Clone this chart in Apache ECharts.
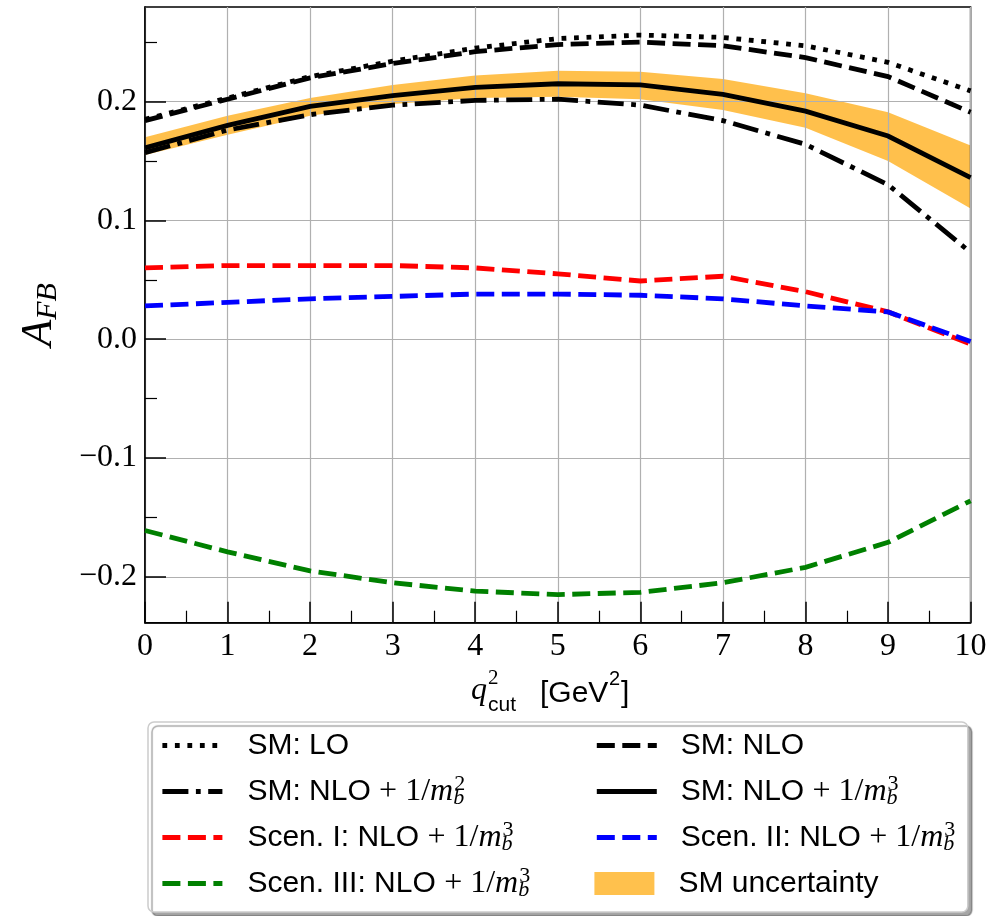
<!DOCTYPE html>
<html>
<head>
<meta charset="utf-8">
<script src="https://cdn.jsdelivr.net/npm/echarts@6/dist/echarts.min.js"></script>
<style>
  html, body { margin: 0; padding: 0; background: #fff; }
  #chart { width: 1002px; height: 916px; }
</style>
</head>
<body>
<div id="chart"></div>
<script>
// q^2_cut values (GeV^2)
const qCut = [0, 1, 2, 3, 4, 5, 6, 7, 8, 9, 10];

// Forward-backward asymmetry A_FB for each prediction
const smLO       = [0.185, 0.203, 0.221, 0.234, 0.245, 0.253, 0.256, 0.254, 0.247, 0.233, 0.209];
const smNLO      = [0.184, 0.202, 0.220, 0.232, 0.242, 0.248, 0.250, 0.247, 0.237, 0.221, 0.191];
const smNLOmb2   = [0.157, 0.176, 0.189, 0.197, 0.201, 0.202, 0.197, 0.184, 0.164, 0.130, 0.073];
const smNLOmb3   = [0.161, 0.180, 0.196, 0.205, 0.212, 0.215, 0.214, 0.206, 0.192, 0.171, 0.136];
const smUncLower = [0.155, 0.172, 0.188, 0.198, 0.203, 0.204, 0.202, 0.193, 0.178, 0.150, 0.110];
const smUncUpper = [0.170, 0.188, 0.203, 0.214, 0.222, 0.226, 0.225, 0.219, 0.207, 0.191, 0.163];
const scenI      = [0.060, 0.062, 0.062, 0.062, 0.060, 0.055, 0.049, 0.053, 0.040, 0.023, -0.004];
const scenII     = [0.028, 0.031, 0.034, 0.036, 0.038, 0.038, 0.037, 0.034, 0.028, 0.023, -0.002];
const scenIII    = [-0.161, -0.179, -0.195, -0.205, -0.212, -0.215, -0.213, -0.205, -0.192, -0.171, -0.136];

// Axis ranges and tick positions
const xRange = [0, 10];
const yRange = [-0.2386, 0.2796];
const yMajorTicks = [-0.2, -0.1, 0, 0.1, 0.2];
const yMinorTicks = [-0.15, -0.05, 0.05, 0.15, 0.25];

// Legend entries (series names), two columns filled row by row
const names = {
  lo: 'SM: LO',
  nlo: 'SM: NLO',
  mb2: 'SM: NLO + 1/m_b^2',
  mb3: 'SM: NLO + 1/m_b^3',
  s1: 'Scen. I: NLO + 1/m_b^3',
  s2: 'Scen. II: NLO + 1/m_b^3',
  s3: 'Scen. III: NLO + 1/m_b^3',
  unc: 'SM uncertainty'
};
const legendOrder = [names.lo, names.nlo, names.mb2, names.mb3, names.s1, names.s2, names.s3, names.unc];

const LW = 4.8;
const DASHED = [18, 7.5];
const DOTTED = [4.8, 7.7];
const DASHDOT = [26, 7.5, 4.8, 7.5];
const BAND_COLOR = 'rgba(255,165,0,0.7)';
const BAND_SOLID = '#FFC14D';

const pairs = arr => qCut.map((x, i) => [x, arr[i]]);

function lineSeries(name, arr, color, dash) {
  return {
    name: name,
    type: 'line',
    data: pairs(arr),
    symbol: 'none',
    smooth: false,
    color: color,
    lineStyle: { color: color, width: LW, type: dash, cap: 'butt', join: 'miter' },
    z: 3,
    silent: true
  };
}

const SERIF = '"Liberation Serif", "DejaVu Serif", serif';
const SANS = '"Liberation Sans", "DejaVu Sans", sans-serif';

const chart = echarts.init(document.getElementById('chart'), null, { renderer: 'canvas' });

const legendData = legendOrder.map((n, i) => {
  const item = {
    name: n,
    textStyle: i % 2 === 0 ? { width: 337, padding: [0, 0, 0, 20] } : { width: 276, padding: [0, 0, 0, 19] }
  };
  if (n === names.unc) {
    item.icon = 'rect';
    item.itemStyle = { color: BAND_SOLID, opacity: 1, borderWidth: 0 };
  }
  return item;
});

const option = {
  animation: false,
  backgroundColor: '#ffffff',
  grid: {
    left: 145, right: 31.4, top: 7, bottom: 293.3,
    show: true, borderColor: '#000', borderWidth: 1.5, backgroundColor: 'transparent',
    containLabel: false, outerBoundsMode: 'none'
  },
  xAxis: {
    type: 'value',
    min: xRange[0], max: xRange[1], interval: 1,
    axisLine: { show: true, onZero: false, lineStyle: { color: '#000', width: 1.5 } },
    axisTick: { show: true, inside: true, length: 21, lineStyle: { color: '#000', width: 1.5 } },
    minorTick: { show: true, splitNumber: 2, length: 12, lineStyle: { color: '#000', width: 1.2 } },
    splitLine: { show: true, lineStyle: { color: '#b0b0b0', width: 1.2 } },
    axisLabel: { color: '#000', fontFamily: SERIF, fontSize: 32, margin: 8 }
  },
  yAxis: [
    {
      type: 'value',
      position: 'left',
      min: yRange[0], max: yRange[1],
      axisLine: { show: true, onZero: false, lineStyle: { color: '#000', width: 1.5 } },
      axisTick: { show: true, inside: true, length: 21, customValues: yMajorTicks, lineStyle: { color: '#000', width: 1.5 } },
      splitLine: { show: true, lineStyle: { color: '#b0b0b0', width: 1.2 } },
      axisLabel: {
        customValues: yMajorTicks,
        color: '#000', fontFamily: SERIF, fontSize: 32, margin: 8,
        formatter: v => (v < -1e-9 ? '\u2212' : '') + Math.abs(v).toFixed(1)
      },
      name: '{a|A}{s|FB}',
      nameLocation: 'middle',
      nameRotate: 90,
      nameGap: 82,
      nameTextStyle: {
        rich: {
          a: { fontFamily: SERIF, fontStyle: 'italic', fontSize: 44, lineHeight: 48, color: '#000' },
          s: { fontFamily: SERIF, fontStyle: 'italic', fontSize: 30, lineHeight: 30, color: '#000', verticalAlign: 'bottom' }
        }
      }
    },
    {
      type: 'value',
      position: 'left',
      min: yRange[0], max: yRange[1],
      axisLine: { show: false },
      axisTick: { show: true, inside: true, length: 12, customValues: yMinorTicks, lineStyle: { color: '#000', width: 1.2 } },
      splitLine: { show: false },
      axisLabel: { show: false }
    }
  ],
  legend: {
    left: 148, top: 722,
    width: 900,
    orient: 'horizontal',
    padding: [5.5, 11, 10.5, 12],
    itemGap: 10,
    itemWidth: 60,
    itemHeight: 23,
    selectedMode: false,
    backgroundColor: '#ffffff',
    borderColor: '#cccccc',
    borderWidth: 1.5,
    borderRadius: 6,
    shadowColor: 'rgba(0,0,0,0.35)',
    shadowBlur: 1,
    shadowOffsetX: 4,
    shadowOffsetY: 4,
    lineStyle: { width: LW },
    itemStyle: { opacity: 0 },
    data: legendData,
    formatter: name => name.replace(/ \+ 1\/m_b\^(\d)$/, (m, p) => ' {op|+ 1/}{mi|m}{sb|b}{sp|' + p + '}'),
    textStyle: {
      color: '#000', fontFamily: SANS, fontSize: 30, lineHeight: 36,
      rich: {
        op: { fontFamily: SERIF, fontSize: 32, lineHeight: 36, color: '#000' },
        mi: { fontFamily: SERIF, fontStyle: 'italic', fontSize: 32, lineHeight: 36, color: '#000' },
        sb: { fontFamily: SERIF, fontStyle: 'italic', fontSize: 22, lineHeight: 18, color: '#000', width: 1, verticalAlign: 'bottom' },
        sp: { fontFamily: SERIF, fontSize: 22, lineHeight: 14, color: '#000', verticalAlign: 'top' }
      }
    }
  },
  graphic: [
    { type: 'text', x: 471, y: 690.6, style: { text: 'q', font: 'italic 32px ' + SERIF, fill: '#000', verticalAlign: 'middle' } },
    { type: 'text', x: 488, y: 678, style: { text: '2', font: '21px ' + SERIF, fill: '#000', verticalAlign: 'middle' } },
    { type: 'text', x: 488, y: 705.7, style: { text: 'cut', font: '21px ' + SANS, fill: '#000', verticalAlign: 'middle' } },
    { type: 'text', x: 540, y: 693.6, style: { text: '[GeV', font: '30px ' + SANS, fill: '#000', verticalAlign: 'middle' } },
    { type: 'text', x: 609, y: 679, style: { text: '2', font: '20px ' + SANS, fill: '#000', verticalAlign: 'middle' } },
    { type: 'text', x: 621, y: 693.6, style: { text: ']', font: '30px ' + SANS, fill: '#000', verticalAlign: 'middle' } }
  ],
  series: [
    {
      // shaded band between lower and upper SM estimates, drawn under the grid lines
      name: names.unc,
      type: 'custom',
      data: qCut.map((x, i) => [x, smUncLower[i], smUncUpper[i]]),
      encode: { x: 0, y: [1, 2] },
      itemStyle: { color: BAND_SOLID },
      z: -1,
      silent: true,
      renderItem: (params, api) => {
        if (params.dataIndex !== 0) return null;
        const pts = [];
        for (let i = 0; i < qCut.length; i++) pts.push(api.coord([qCut[i], smUncUpper[i]]));
        for (let i = qCut.length - 1; i >= 0; i--) pts.push(api.coord([qCut[i], smUncLower[i]]));
        return { type: 'polygon', shape: { points: pts }, style: { fill: BAND_COLOR, stroke: null } };
      }
    },
    lineSeries(names.lo, smLO, '#000000', DOTTED),
    lineSeries(names.nlo, smNLO, '#000000', DASHED),
    lineSeries(names.mb2, smNLOmb2, '#000000', DASHDOT),
    lineSeries(names.mb3, smNLOmb3, '#000000', 'solid'),
    lineSeries(names.s1, scenI, '#ff0000', DASHED),
    lineSeries(names.s2, scenII, '#0000ff', DASHED),
    lineSeries(names.s3, scenIII, '#008000', DASHED)
  ]
};

chart.setOption(option);
</script>
</body>
</html>
